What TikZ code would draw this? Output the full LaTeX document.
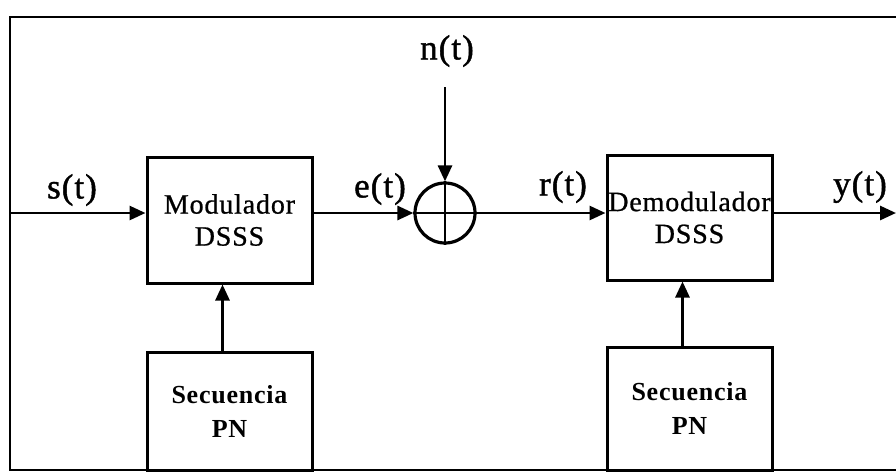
\documentclass[tikz,border=0pt]{standalone}
\usepackage{fontspec}
\setmainfont{Liberation Serif}
\newfontfamily\boxfont[LetterSpace=3,FakeBold=0.8]{Liberation Serif}
\newfontfamily\pnfont[LetterSpace=3]{Liberation Serif Bold}
\newfontfamily\sigfont[LetterSpace=3,FakeBold=1.2]{Liberation Serif}
\usetikzlibrary{arrows.meta,calc}

\tikzset{
  block/.style={draw, line width=3pt, minimum width=165pt, inner sep=0pt,
    align=center, font=\boxfont\fontsize{28}{32}\selectfont},
  pnblock/.style={block, font=\pnfont\fontsize{26}{34}\selectfont},
  sumnode/.style={draw, circle, line width=3.2pt, minimum size=60pt, inner sep=0pt},
  sig/.style={font=\sigfont\fontsize{35}{35}\selectfont},
  wire/.style={line width=2.8pt},
  flow/.style={wire, -{Triangle[length=16pt,width=14pt]}},
}

\begin{document}
\begin{tikzpicture}[x=1pt,y=-1pt]
  \useasboundingbox (0,0) rectangle (896,472);

  % outer frame
  \draw[wire] (896,17) -- (10,17) -- (10,470) -- (896,470);

  % blocks
  \node[block, minimum height=126pt] (mod) at (229.5,220) {Modulador\\DSSS};
  \node[pnblock, minimum height=118pt] (pn1) at (229.5,411) {Secuencia\\PN};
  \node[sumnode] (sum) at (445,213) {};
  \node[block, minimum height=125pt] (demod) at (689.5,217.5) {Demodulador\\DSSS};
  \node[pnblock, minimum height=123pt] (pn2) at (689.5,408.5) {Secuencia\\PN};

  % summing junction cross
  \draw[wire] (sum.north) -- (sum.south);
  \draw[wire] (sum.west) -- (sum.east);

  % free ends
  \coordinate (in) at (10,213);
  \coordinate (ntop) at (445,87);
  \coordinate (out) at (896,213);

  % signal path
  \draw[flow] (in) -- (in -| mod.west);
  \draw[flow] (mod.east |- sum.west) -- (sum.west);
  \draw[flow] (ntop) -- (sum.north);
  \draw[flow] (sum.east) -- (sum.east -| demod.west);
  \draw[flow] (demod.east |- out) -- (out);

  % PN sequences into the (de)modulators
  \draw[flow] ($(pn1.north)+(-7,0)$) -- ($(mod.south)+(-7,0)$);
  \draw[flow] ($(pn2.north)+(-7,0)$) -- ($(demod.south)+(-7,0)$);

  % signal labels
  \node[sig] (ls) at (72,190) {s(t)};
  \node[sig] (le) at (380,189) {e(t)};
  \node[sig] (ln) at (447,51) {n(t)};
  \node[sig] (lr) at (563,187) {r(t)};
  \node[sig] (ly) at (860,187) {y(t)};
\end{tikzpicture}
\end{document}
